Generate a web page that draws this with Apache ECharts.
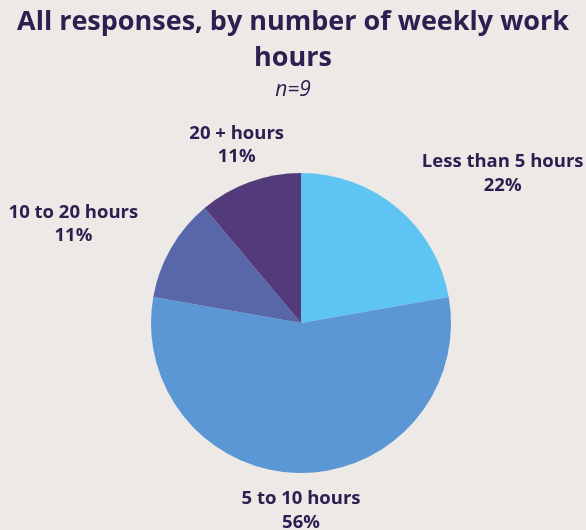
<!DOCTYPE html>
<html>
<head>
<meta charset="utf-8">
<script src="https://cdn.jsdelivr.net/npm/echarts@6/dist/echarts.min.js"></script>
<style>
  html, body { margin: 0; padding: 0; background: #EDE9E6; }
  #chart { width: 586px; height: 530px; }
</style>
</head>
<body>
<div id="chart"></div>
<script>
// Responses per weekly-hours band (n = 9)
const categories = ['Less than 5 hours', '5 to 10 hours', '10 to 20 hours', '20 + hours'];
const counts = [2, 5, 1, 1];
const percentLabels = ['22%', '56%', '11%', '11%'];
const sliceColors = ['#5EC4F1', '#5A97D4', '#5767A9', '#533A7A'];

const ink = '#2A2150';
const font = '"Open Sans", "Noto Sans", sans-serif';
const center = [301, 323];
const radius = 150;
const gapV = 14;   // label clearance above/below the pie
const gapH = 38;   // label clearance to the sides
const labelSize = 18.5;

const total = counts.reduce((a, b) => a + b, 0);
// mid angle of each slice, clockwise from 12 o'clock
const midAngles = [];
let acc = 0;
counts.forEach(v => {
  midAngles.push(((acc + v / 2) / total) * Math.PI * 2);
  acc += v;
});

// width of a multi-line label block, measured with the label font
const measureCtx = document.createElement('canvas').getContext('2d');
measureCtx.font = '700 ' + labelSize + 'px ' + font;
function blockWidth(i) {
  return Math.max(
    measureCtx.measureText(categories[i]).width,
    measureCtx.measureText(percentLabels[i]).width
  );
}

const titleStyle = {
  color: ink, fontFamily: font, fontWeight: 700, fontSize: 27, lineHeight: 36
};

const chart = echarts.init(document.getElementById('chart'), null, { renderer: 'canvas' });

chart.setOption({
  backgroundColor: '#EDE9E6',
  animation: false,
  title: [
    { text: 'All responses, by number of weekly work', left: 'center', top: 4, padding: 0, textStyle: titleStyle },
    { text: 'hours', left: 'center', top: 40, padding: 0, textStyle: titleStyle },
    {
      text: 'n=9',
      left: 'center',
      top: 78,
      padding: 0,
      textStyle: {
        color: ink, fontFamily: font, fontWeight: 400, fontStyle: 'italic',
        fontSize: 21, lineHeight: 24
      }
    }
  ],
  series: [{
    type: 'pie',
    center: center,
    radius: radius,
    startAngle: 90,
    clockwise: true,
    silent: true,
    itemStyle: { borderWidth: 0 },
    label: {
      show: true,
      position: 'outside',
      formatter: p => p.name + '\n' + percentLabels[p.dataIndex],
      color: ink,
      fontFamily: font,
      fontWeight: 700,
      fontSize: labelSize,
      lineHeight: 23.5,
      align: 'center',
      overflow: 'none'
    },
    labelLine: { show: false },
    labelLayout: function (params) {
      const i = params.dataIndex;
      const th = midAngles[i];
      const s = Math.sin(th), c = Math.cos(th);
      const px = center[0] + (radius + gapH) * s;
      const py = center[1] - (radius + gapV) * c;
      const w = blockWidth(i), h = 47;
      let x = px;
      if (s > 0.5) x = px + w / 2; else if (s < -0.5) x = px - w / 2;
      const f = Math.max(-1, Math.min(1, c / 0.7));
      const y = py - f * h / 2;
      return { x: x, y: y, align: 'center', verticalAlign: 'middle' };
    },
    data: categories.map((name, i) => ({
      name: name,
      value: counts[i],
      itemStyle: { color: sliceColors[i] }
    }))
  }]
});
</script>
</body>
</html>
